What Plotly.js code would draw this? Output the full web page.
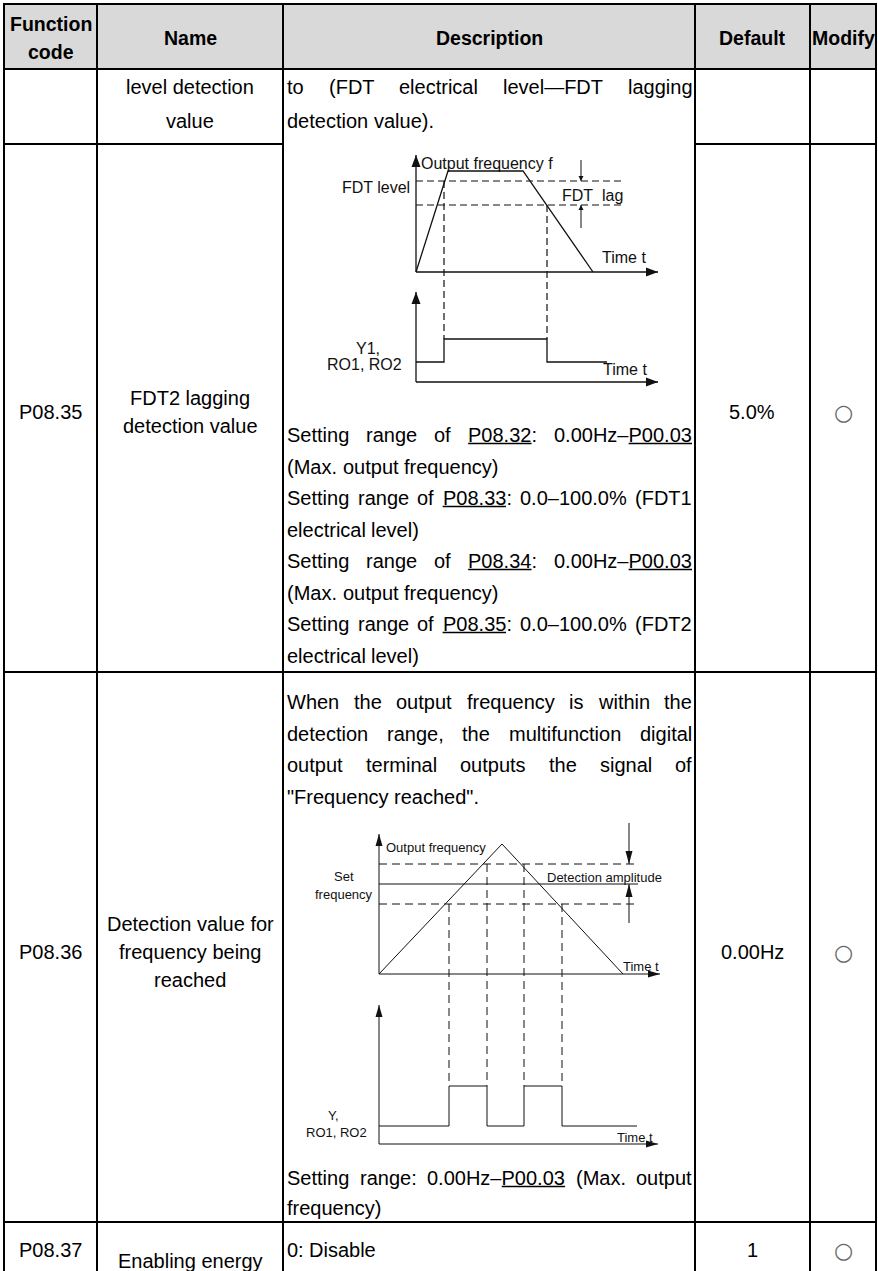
<!DOCTYPE html>
<html>
<head>
<meta charset="utf-8">
<script src="https://cdn.plot.ly/plotly-3.0.1.min.js"></script>
<style>
html,body{margin:0;padding:0;background:#fff;}
#chart{width:878px;height:1271px;}
</style>
</head>
<body>
<div id="chart"></div>
<script>
// ================= DATA =================
const headerCells = ["Function|code", "Name", "Description", "Default", "Modify"];
const codes = ["", "P08.35", "P08.36", "P08.37"];
const names = [
  ["level detection", "value"],
  ["FDT2 lagging", "detection value"],
  ["Detection value for", "frequency being", "reached"],
  ["Enabling energy"]
];
const defaults = ["", "5.0%", "0.00Hz", "1"];
const modifies = ["", "○", "○", "○"];

// description lines: [text, justified]; _xx_ marks underlined text
const descTop = [
  ["to (FDT electrical level—FDT lagging", true],
  ["detection value).", false]
];
const descFdtRange = [
  ["Setting range of _P08.32_: 0.00Hz–_P00.03_", true],
  ["(Max. output frequency)", false],
  ["Setting range of _P08.33_: 0.0–100.0% (FDT1", true],
  ["electrical level)", false],
  ["Setting range of _P08.34_: 0.00Hz–_P00.03_", true],
  ["(Max. output frequency)", false],
  ["Setting range of _P08.35_: 0.0–100.0% (FDT2", true],
  ["electrical level)", false]
];
const descReachIntro = [
  ["When the output frequency is within the", true],
  ["detection range, the multifunction digital", true],
  ["output terminal outputs the signal of", true],
  ["\"Frequency reached\".", false]
];
const descReachRange = [
  ["Setting range: 0.00Hz–_P00.03_ (Max. output", true],
  ["frequency)", false]
];
const descEnergy = [["0: Disable", false]];

// FDT diagram (diagram units: time t, level)
const fdtTime = [0, 3.2, 10.7, 17.7];
const fdtFreq = [0, 10.1, 10.1, 0];
const fdtLevel = 9.1;
const fdtLagLevel = 6.7;
const fdtAxisTop = 11.7, fdtTimeEnd = 24.2, fdtDashEnd = 20.6;
const y1Time = [0, 2.8, 2.8, 13.1, 13.1, 19.1];
const y1State = [2.0, 2.0, 4.3, 4.3, 2.0, 2.0];
const y1AxisTop = 9.0;
const fdtEdgeLevels = [fdtLevel, fdtLagLevel];
const fdtLagArrowTop = 11.2, fdtLagArrowBottom = 4.4, fdtLagArrowT = 16.5;

// Frequency-reached diagram
const frTime = [0, 12.3, 24.4];
const frFreq = [0, 13.0, 0];
const frSetFreq = 9.0, frUpper = 11.0, frLower = 7.0;
const frAxisTop = 14.0, frTimeEnd = 28.1, frLineEnd = 25.9;
const yTime = [0, 7.0, 7.0, 10.8, 10.8, 14.5, 14.5, 18.3, 18.3, 25.8];
const yState = [1.8, 1.8, 5.8, 5.8, 1.8, 1.8, 5.8, 5.8, 1.8, 1.8];
const yAxisTop = 13.9, yTimeEnd = 27.9;
const frEdgeLevels = [frLower, frUpper, frUpper, frLower];
const frAmpArrowT = 25.0, frAmpTop = 15.1, frAmpBottom = 5.1;

// ================= LAYOUT CONSTANTS =================
const W = 878, H = 1271;
const FONT = 'Liberation Sans, Arial, sans-serif';
const BODY = 20;
const colX = [4, 97, 283, 695, 810, 876];
const rowY = [4, 69, 144, 672, 1222];
const DESC_L = 287, DESC_R = 692;
const UL = 8.5;

const ctx = document.createElement('canvas').getContext('2d');
function tw(s, size, bold) {
  ctx.font = (bold ? 'bold ' : '') + size + 'px "Liberation Sans"';
  return ctx.measureText(s).width;
}

const annotations = [];
const shapes = [];
const traces = [];

function addText(text, x, y, opts) {
  annotations.push(Object.assign({
    xref: 'x', yref: 'y', x: x, y: y, text: text, showarrow: false,
    xanchor: 'center', yanchor: 'middle', borderpad: 0, borderwidth: 0,
    font: {family: FONT, size: BODY, color: '#000'}
  }, opts || {}));
}

function layoutLine(line, justify, y) {
  const words = line.split(' ').filter(w => w.length);
  const parsed = words.map(w => {
    const segs = w.split('_');
    const plain = segs.join('');
    return {segs: segs, plain: plain, w: tw(plain, BODY)};
  });
  const total = parsed.reduce((a, p) => a + p.w, 0);
  const sp = (justify && parsed.length > 1) ? (DESC_R - DESC_L - total) / (parsed.length - 1) : tw(' ', BODY);
  let x = DESC_L;
  parsed.forEach(p => {
    addText(p.plain, x, y, {xanchor: 'left'});
    let off = 0;
    p.segs.forEach((s, i) => {
      const sw = s.length ? tw(s, BODY) : 0;
      if (i % 2 === 1 && sw > 0) {
        shapes.push({type: 'line', xref: 'x', yref: 'y', x0: x + off, x1: x + off + sw,
          y0: y + UL, y1: y + UL, line: {color: '#000', width: 1.3}});
      }
      off += sw;
    });
    x += p.w + sp;
  });
}
function layoutBlock(lines, y0, step) {
  lines.forEach((l, i) => layoutLine(l[0], l[1], y0 + i * step));
}

// ----- table grid -----
shapes.push({type: 'rect', xref: 'x', yref: 'y', x0: colX[0], x1: colX[5], y0: rowY[0], y1: rowY[1],
  fillcolor: '#d9d9d9', line: {width: 0}, layer: 'below'});
colX.forEach(x => shapes.push({type: 'line', xref: 'x', yref: 'y', x0: x, x1: x, y0: rowY[0] - 1, y1: H,
  line: {color: '#000', width: 2}}));
[rowY[0], rowY[1], rowY[3], rowY[4]].forEach(y => shapes.push({type: 'line', xref: 'x', yref: 'y',
  x0: colX[0] - 1, x1: colX[5] + 1, y0: y, y1: y, line: {color: '#000', width: 2}}));
[[colX[0], colX[2]], [colX[3], colX[5]]].forEach(s => shapes.push({type: 'line', xref: 'x', yref: 'y',
  x0: s[0], x1: s[1], y0: rowY[2], y1: rowY[2], line: {color: '#000', width: 2}}));

// ----- header -----
const hdrY = 38;
const colCenters = [50.5, 190, 489, 752, 843.5];
headerCells.forEach((h, i) => {
  const parts = h.split('|');
  if (parts.length === 2) {
    addText('<b>' + parts[0] + '</b>', colCenters[i], 24, {font: {family: FONT, size: 19.5, color: '#000'}});
    addText('<b>' + parts[1] + '</b>', colCenters[i], 52, {font: {family: FONT, size: 19.5, color: '#000'}});
  } else {
    addText('<b>' + h + '</b>', colCenters[i], hdrY, {font: {family: FONT, size: 19.5, color: '#000'}});
  }
});

// ----- rows -----
const codeY = [null, 412, 952, 1250];
const nameY = [[87, 121], [398, 426], [924, 952, 980], [1261]];
codes.forEach((c, i) => { if (c) addText(c, colCenters[0], codeY[i]); });
names.forEach((n, i) => n.forEach((t, j) => addText(t, colCenters[1], nameY[i][j])));
defaults.forEach((d, i) => { if (d) addText(d, colCenters[3], codeY[i]); });
modifies.forEach((m, i) => { if (m) addText(m, colCenters[4], codeY[i],
  {font: {family: 'DejaVu Sans, sans-serif', size: 22, color: '#666'}}); });

layoutBlock(descTop, 87, 34);
layoutBlock(descFdtRange, 435, 31.5);
layoutBlock(descReachIntro, 702, 31.7);
layoutBlock(descReachRange, 1178, 30);
layoutBlock(descEnergy, 1250, 30);

// ----- diagram subplots -----
// each subplot: 10 px per unit, origin at px (ox, oy), box rows [top, bottom] px
function subplotAxes(n, ox, oy, top, bottom) {
  return {
    x: {domain: [colX[2] / W, colX[3] / W], range: [(colX[2] - ox) / 10, (colX[3] - ox) / 10],
        visible: false, anchor: 'y' + n, fixedrange: true},
    y: {domain: [1 - bottom / H, 1 - top / H], range: [(oy - bottom) / 10, (oy - top) / 10],
        visible: false, anchor: 'x' + n, fixedrange: true}
  };
}
const subA = subplotAxes(2, 416, 382, 145, 428);
const subB = subplotAxes(3, 379, 1144, 810, 1162);
const baseA = 11.0;   // upper panel axis offset (diagram A)
const baseB = 17.0;   // upper panel axis offset (diagram B)

function line(xa, ya, xs, ys, opts) {
  traces.push({type: 'scatter', mode: 'lines', x: xs, y: ys, xaxis: xa, yaxis: ya,
    hoverinfo: 'skip', showlegend: false, cliponaxis: false,
    line: Object.assign({color: '#111', width: 1.3}, (opts && opts.line) || {})});
}
function head(n, x, y, dir, len, half) {
  let p;
  if (dir === 'up') p = `M0,0 L${-half},${-len} L${half},${-len} Z`;
  else if (dir === 'down') p = `M0,0 L${-half},${len} L${half},${len} Z`;
  else p = `M0,0 L${-len},${half} L${-len},${-half} Z`;
  shapes.push({type: 'path', xref: 'x' + n, yref: 'y' + n, xsizemode: 'pixel', ysizemode: 'pixel',
    xanchor: x, yanchor: y, path: p, fillcolor: '#111', line: {width: 0}});
}
function dText(n, text, x, y, size, anchor) {
  annotations.push({xref: 'x' + n, yref: 'y' + n, x: x, y: y, text: text, showarrow: false,
    xanchor: anchor || 'center', yanchor: 'middle', borderpad: 0, borderwidth: 0,
    font: {family: FONT, size: size, color: '#111'}});
}

// Diagram A : FDT
const dA = {line: {dash: '7px,4px', width: 1.2}};
line('x2', 'y2', [0, 0], [baseA, baseA + fdtAxisTop]);
line('x2', 'y2', [0, fdtTimeEnd], [baseA, baseA]);
line('x2', 'y2', fdtTime, fdtFreq.map(v => v + baseA));
line('x2', 'y2', [0, fdtDashEnd], [baseA + fdtLevel, baseA + fdtLevel], dA);
line('x2', 'y2', [0, fdtDashEnd], [baseA + fdtLagLevel, baseA + fdtLagLevel], dA);
line('x2', 'y2', [fdtLagArrowT, fdtLagArrowT], [baseA + fdtLagArrowTop, baseA + fdtLevel], {line: {width: 1}});
line('x2', 'y2', [fdtLagArrowT, fdtLagArrowT], [baseA + fdtLagArrowBottom, baseA + fdtLagLevel], {line: {width: 1}});
line('x2', 'y2', [0, 0], [0, y1AxisTop]);
line('x2', 'y2', [0, fdtTimeEnd], [0, 0]);
line('x2', 'y2', y1Time, y1State);
const y1Edges = y1Time.filter((t, i) => i > 0 && t === y1Time[i - 1]);
const y1High = Math.max.apply(null, y1State);
y1Edges.forEach((t, i) => line('x2', 'y2', [t, t], [baseA + fdtEdgeLevels[i], y1High], dA));
head(2, 0, baseA + fdtAxisTop, 'up', 12, 4.5);
head(2, fdtTimeEnd, baseA, 'right', 12, 4.5);
head(2, 0, y1AxisTop, 'up', 12, 4.5);
head(2, fdtTimeEnd, 0, 'right', 12, 4.5);
head(2, fdtLagArrowT, baseA + fdtLevel, 'down', 5, 2.5);
head(2, fdtLagArrowT, baseA + fdtLagLevel, 'up', 5, 2.5);
dText(2, 'Output frequency f', 0.45, baseA + 10.9, 16, 'left');
dText(2, 'FDT level', -0.6, baseA + 8.5, 16, 'right');
dText(2, 'FDT\u00a0 lag', 14.6, baseA + 7.7, 16, 'left');
dText(2, 'Time t', 20.8, baseA + 1.5, 16);
dText(2, 'Y1,', -4.8, 3.4, 16);
dText(2, 'RO1, RO2', -5.2, 1.8, 16);
dText(2, 'Time t', 20.9, 1.3, 16);

// Diagram B : frequency reached
const dB = {line: {dash: '8px,5px', width: 1}};
const sB = {line: {width: 1}};
line('x3', 'y3', [0, 0], [baseB, baseB + frAxisTop], sB);
line('x3', 'y3', [0, frTimeEnd], [baseB, baseB], sB);
line('x3', 'y3', frTime, frFreq.map(v => v + baseB), sB);
line('x3', 'y3', [0, frLineEnd], [baseB + frUpper, baseB + frUpper], dB);
line('x3', 'y3', [0, frLineEnd], [baseB + frSetFreq, baseB + frSetFreq], sB);
line('x3', 'y3', [0, frLineEnd], [baseB + frLower, baseB + frLower], dB);
line('x3', 'y3', [frAmpArrowT, frAmpArrowT], [baseB + frAmpTop, baseB + frUpper], sB);
line('x3', 'y3', [frAmpArrowT, frAmpArrowT], [baseB + frAmpBottom, baseB + frSetFreq], sB);
line('x3', 'y3', [0, 0], [0, yAxisTop], sB);
line('x3', 'y3', [0, yTimeEnd], [0, 0], sB);
line('x3', 'y3', yTime, yState, sB);
const yEdges = yTime.filter((t, i) => i > 0 && t === yTime[i - 1]);
const yHigh = Math.max.apply(null, yState);
yEdges.forEach((t, i) => line('x3', 'y3', [t, t], [baseB + frEdgeLevels[i], yHigh], dB));
head(3, 0, baseB + frAxisTop, 'up', 12, 3.5);
head(3, frTimeEnd, baseB, 'right', 12, 3.5);
head(3, 0, yAxisTop, 'up', 12, 3.5);
head(3, yTimeEnd, 0, 'right', 12, 3.5);
head(3, frAmpArrowT, baseB + frUpper, 'down', 13, 3.5);
head(3, frAmpArrowT, baseB + frSetFreq, 'up', 13, 3.5);
dText(3, 'Output frequency', 0.7, baseB + 12.7, 13, 'left');
dText(3, 'Set', -3.5, baseB + 9.8, 13);
dText(3, 'frequency', -3.5, baseB + 8.0, 13);
dText(3, 'Detection amplitude', 16.8, baseB + 9.7, 13, 'left');
dText(3, 'Time t', 26.2, baseB + 0.8, 13);
dText(3, 'Y,', -4.6, 2.9, 13);
dText(3, 'RO1, RO2', -4.3, 1.2, 13);
dText(3, 'Time t', 25.6, 0.7, 13);

// dummy trace on main axes so they exist
traces.unshift({type: 'scatter', mode: 'markers', x: [0], y: [0], xaxis: 'x', yaxis: 'y',
  marker: {opacity: 0}, hoverinfo: 'skip', showlegend: false});

const layout = {
  width: W, height: H,
  margin: {l: 0, r: 0, t: 0, b: 0, pad: 0},
  paper_bgcolor: '#fff', plot_bgcolor: 'rgba(0,0,0,0)',
  showlegend: false,
  xaxis: {domain: [0, 1], range: [0, W], visible: false, fixedrange: true},
  yaxis: {domain: [0, 1], range: [H, 0], visible: false, fixedrange: true},
  xaxis2: subA.x, yaxis2: subA.y,
  xaxis3: subB.x, yaxis3: subB.y,
  shapes: shapes,
  annotations: annotations
};
Plotly.newPlot('chart', traces, layout, {staticPlot: true, displayModeBar: false});
</script>
</body>
</html>
